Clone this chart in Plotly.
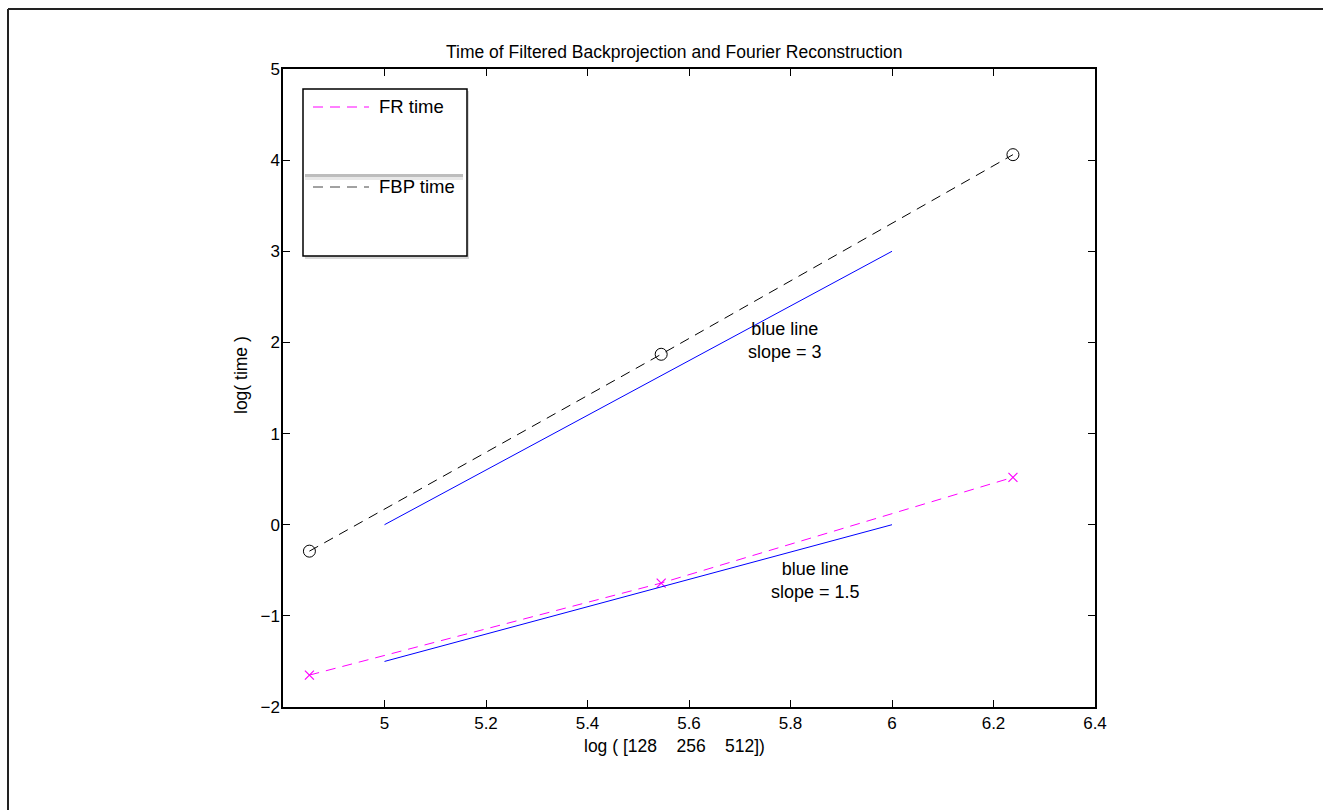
import plotly.graph_objects as go
import numpy as np

# data
n_sizes = [128, 256, 512]
log_n = [float(np.log(v)) for v in n_sizes]
fbp_time = [-0.29, 1.87, 4.06]
fr_time = [-1.65, -0.64, 0.52]
ref3_x = [5, 6]
ref3_y = [0, 3]
ref15_x = [5, 6]
ref15_y = [-1.5, 0]

L, R, T, B = 283, 1095, 69, 707
W, H = 1323, 810
def px(xp):
    return (xp - L) / (R - L)
def py(yp):
    return (B - yp) / (B - T)

FONT = "Liberation Sans, Arial, Helvetica, sans-serif"

fig = go.Figure()
fig.add_trace(go.Scatter(x=log_n, y=fr_time, mode="lines+markers",
                         line=dict(color="#ff00ff", width=1, dash="10px,7px"),
                         marker=dict(symbol="x-thin-open", size=9, color="#ff00ff",
                                     line=dict(color="#ff00ff", width=1.2)),
                         name="FR time", showlegend=False))
fig.add_trace(go.Scatter(x=log_n, y=fbp_time, mode="lines+markers",
                         line=dict(color="black", width=1, dash="10px,7px"),
                         marker=dict(symbol="circle-open", size=12, color="black",
                                     line=dict(color="black", width=1)),
                         name="FBP time", showlegend=False))
fig.add_trace(go.Scatter(x=ref3_x, y=ref3_y, mode="lines",
                         line=dict(color="#0000ff", width=1), showlegend=False))
fig.add_trace(go.Scatter(x=ref15_x, y=ref15_y, mode="lines",
                         line=dict(color="#0000ff", width=1), showlegend=False))

axis_common = dict(showgrid=False, zeroline=False, showline=True, linecolor="black",
                   linewidth=1.5, mirror="ticks", ticks="inside", ticklen=7,
                   tickcolor="black", tickwidth=1,
                   tickfont=dict(family=FONT, size=17, color="black"))
fig.update_xaxes(range=[4.8, 6.4], tickvals=[5, 5.2, 5.4, 5.6, 5.8, 6, 6.2, 6.4],
                 ticktext=["5", "5.2", "5.4", "5.6", "5.8", "6", "6.2", "6.4"], **axis_common)
fig.update_yaxes(range=[-2, 5], tickvals=list(range(-2, 6)), ticklabelstandoff=-2,
                 **axis_common)

def a(x, y, text, size=18, **kw):
    d = dict(x=x, y=y, xref="paper", yref="paper", showarrow=False, text=text,
             yanchor="middle", xanchor="center",
             font=dict(family=FONT, size=size, color="black"))
    d.update(kw)
    return d

ann = []
ann.append(a(px(674), py(52), "Time of Filtered Backprojection and Fourier Reconstruction", 17.5))
ann.append(a(px(674), py(746),
             "log ( [128\u00a0\u00a0\u00a0\u00a0256\u00a0\u00a0\u00a0\u00a0512])", 17.5))
ann.append(a(px(241), py(375), "log( time )", 17.5, textangle=-90))
ann.append(a(5.79, 2.02, "blue line<br>slope = 3", 18, xref="x", yref="y"))
ann.append(a(5.85, -0.61, "blue line<br>slope = 1.5", 18, xref="x", yref="y"))
# legend labels
ann.append(a(px(377), py(107), "FR time", 18.5, xanchor="left"))
ann.append(a(px(377), py(187), "FBP time", 18.5, xanchor="left"))

shapes = []
# outer figure border (top and left)
shapes.append(dict(type="line", xref="paper", yref="paper", x0=px(8), x1=px(W + 5),
                   y0=py(9), y1=py(9), line=dict(color="#222", width=2)))
shapes.append(dict(type="line", xref="paper", yref="paper", x0=px(8), x1=px(8),
                   y0=py(9), y1=py(H + 5), line=dict(color="#222", width=2)))
# legend box shadow and box
shapes.append(dict(type="rect", xref="paper", yref="paper", x0=px(305), x1=px(469),
                   y0=py(91), y1=py(259), line=dict(width=0), fillcolor="#d8d8d8",
                   layer="above"))
shapes.append(dict(type="rect", xref="paper", yref="paper", x0=px(303), x1=px(467),
                   y0=py(89), y1=py(256), line=dict(color="black", width=1.5),
                   fillcolor="white", layer="above"))
# gray band inside legend
shapes.append(dict(type="rect", xref="paper", yref="paper", x0=px(305), x1=px(463),
                   y0=py(174), y1=py(177), line=dict(width=0), fillcolor="#bdbdbd",
                   layer="above"))
shapes.append(dict(type="rect", xref="paper", yref="paper", x0=px(305), x1=px(463),
                   y0=py(177), y1=py(180), line=dict(width=0), fillcolor="#e8e8e8",
                   layer="above"))
# legend samples
shapes.append(dict(type="line", xref="paper", yref="paper", x0=px(313), x1=px(369),
                   y0=py(107), y1=py(107), layer="above",
                   line=dict(color="#ff00ff", width=1, dash="10px,7px")))
shapes.append(dict(type="line", xref="paper", yref="paper", x0=px(313), x1=px(369),
                   y0=py(187), y1=py(187), layer="above",
                   line=dict(color="#444", width=1, dash="10px,7px")))

fig.update_layout(width=W, height=H, margin=dict(l=L, r=W - R, t=T, b=H - B),
                  plot_bgcolor="white", paper_bgcolor="white",
                  annotations=ann, shapes=shapes, showlegend=False)
fig.write_html("out.html")
